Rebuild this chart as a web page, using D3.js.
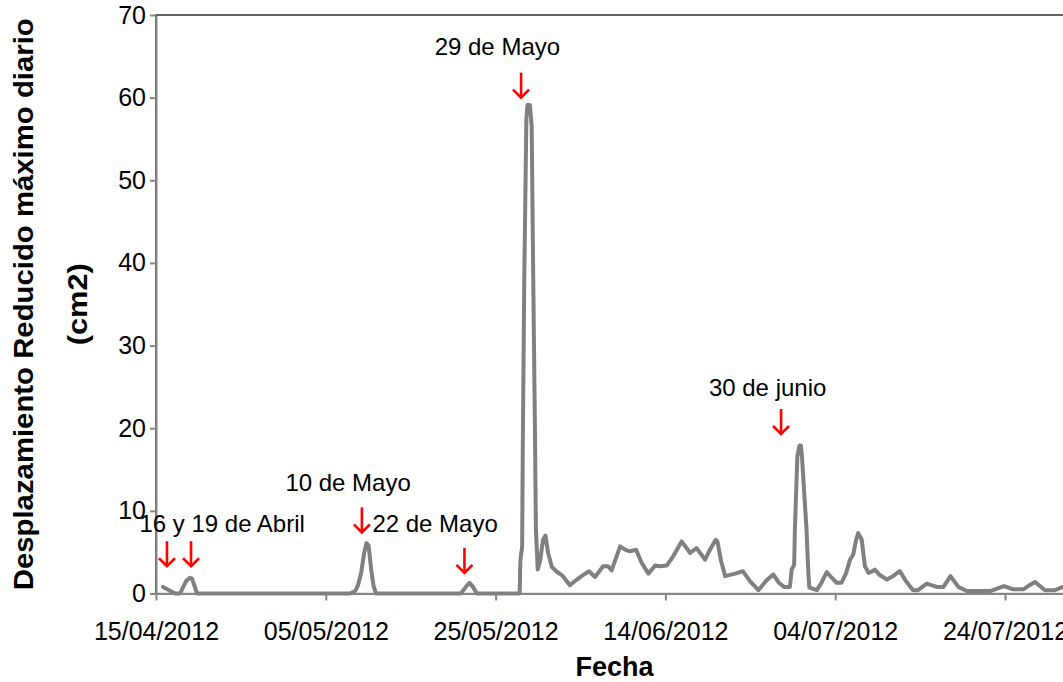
<!DOCTYPE html>
<html>
<head>
<meta charset="utf-8">
<script src="https://cdn.jsdelivr.net/npm/d3@7"></script>
<style>
  html, body { margin: 0; padding: 0; background: #fff; }
  svg { display: block; }
  text { font-family: "Liberation Sans", Arial, sans-serif; }
</style>
</head>
<body>
<svg id="chart" width="1063" height="682"></svg>
<script>
// ---- data ----
const dates = [
  "2012-04-15 20:00","2012-04-17 06:00","2012-04-17 20:00","2012-04-18 13:00","2012-04-19 00:00","2012-04-19 06:00","2012-04-19 20:00",
  "2012-05-07 20:00","2012-05-08 11:00","2012-05-08 19:00","2012-05-09 04:00","2012-05-09 12:00","2012-05-09 19:00","2012-05-10 01:00","2012-05-10 08:00","2012-05-10 15:00","2012-05-10 22:00",
  "2012-05-20 22:00","2012-05-21 12:00","2012-05-21 22:00","2012-05-22 08:00","2012-05-22 19:00",
  "2012-05-27 20:00","2012-05-27 22:00","2012-05-28 03:00","2012-05-28 05:00","2012-05-28 09:00","2012-05-28 15:00","2012-05-28 18:00","2012-05-29 01:00","2012-05-29 06:00","2012-05-29 10:00","2012-05-29 15:00","2012-05-29 18:00","2012-05-29 23:00",
  "2012-05-30 06:00","2012-05-30 14:00","2012-05-30 21:00","2012-05-31 04:00","2012-05-31 15:00","2012-06-01 06:00","2012-06-01 20:00","2012-06-02 18:00","2012-06-03 11:00","2012-06-04 03:00",
  "2012-06-05 00:00","2012-06-05 17:00","2012-06-06 16:00","2012-06-07 06:00","2012-06-07 16:00","2012-06-08 16:00","2012-06-09 06:00","2012-06-09 20:00","2012-06-10 13:00","2012-06-11 05:00",
  "2012-06-12 00:00","2012-06-12 19:00","2012-06-13 09:00","2012-06-14 04:00","2012-06-14 22:00","2012-06-15 22:00","2012-06-16 22:00","2012-06-17 16:00","2012-06-18 16:00","2012-06-19 06:00",
  "2012-06-19 22:00","2012-06-20 03:00","2012-06-20 13:00","2012-06-21 01:00","2012-06-22 05:00","2012-06-23 03:00","2012-06-23 23:00","2012-06-24 23:00","2012-06-25 20:00","2012-06-26 17:00",
  "2012-06-27 09:00","2012-06-27 23:00","2012-06-28 16:00","2012-06-28 21:00","2012-06-29 04:00","2012-06-29 06:00","2012-06-29 13:00","2012-06-29 19:00","2012-06-29 23:00","2012-06-30 02:00",
  "2012-06-30 15:00","2012-06-30 20:00","2012-06-30 23:00","2012-07-01 20:00","2012-07-02 08:00","2012-07-03 00:00","2012-07-03 12:00","2012-07-04 04:00","2012-07-04 18:00","2012-07-05 07:00",
  "2012-07-05 18:00","2012-07-06 03:00","2012-07-06 11:00","2012-07-06 17:00","2012-07-07 03:00","2012-07-07 12:00","2012-07-07 22:00","2012-07-08 10:00","2012-07-08 16:00","2012-07-09 07:00",
  "2012-07-10 02:00","2012-07-10 19:00","2012-07-11 15:00","2012-07-12 08:00","2012-07-13 04:00","2012-07-13 18:00","2012-07-14 19:00","2012-07-15 23:00","2012-07-16 18:00","2012-07-17 14:00",
  "2012-07-18 12:00","2012-07-19 12:00","2012-07-22 06:00","2012-07-23 21:00","2012-07-24 23:00","2012-07-26 04:00","2012-07-26 17:00","2012-07-27 13:00","2012-07-28 17:00","2012-07-29 21:00",
  "2012-07-30 20:00","2012-07-31 16:00"
];
const values = [
  0.8,0.0,0.0,1.5,1.9,1.8,0.0,
  0.0,0.3,1.0,2.5,4.8,6.1,5.8,3.0,0.9,0.0,
  0.0,0.8,1.3,0.8,0.0,
  0.0,4.0,5.7,18.3,38.0,57.5,59.1,59.1,56.5,39.6,20.7,7.7,2.9,
  4.0,6.5,7.0,5.0,3.2,2.6,2.2,1.0,1.6,2.1,
  2.7,2.0,3.3,3.3,2.8,5.7,5.3,5.1,5.3,3.7,
  2.4,3.4,3.3,3.4,4.5,6.3,4.9,5.5,4.1,5.3,
  6.5,6.3,4.0,2.1,2.4,2.7,1.5,0.4,1.5,2.3,
  1.3,0.8,0.8,2.9,3.5,7.7,16.6,17.9,17.9,16.6,
  7.7,2.5,0.7,0.4,1.2,2.6,2.0,1.3,1.3,2.5,
  4.1,4.7,6.5,7.3,6.5,3.3,2.5,2.7,2.9,2.2,
  1.7,2.1,2.7,1.5,0.4,0.4,1.2,0.8,0.8,2.1,
  0.8,0.3,0.3,0.9,0.5,0.5,0.9,1.4,0.4,0.4,
  0.8,1.0
];
const xTickDates = ["2012-04-15","2012-05-05","2012-05-25","2012-06-14","2012-07-04","2012-07-24"];
const yTickValues = [0,10,20,30,40,50,60,70];
const xDomain = ["2012-04-15","2012-08-01"];
const yDomain = [0,70];

// annotation arrows: tip date & value
const arrowDates  = ["2012-04-16 07:00","2012-04-19 03:00","2012-05-09 06:00","2012-05-21 08:00","2012-05-28 00:00","2012-06-27 15:00"];
const arrowValues = [3.3,3.3,7.4,2.5,60.0,19.3];
// annotation labels: centre date & baseline value
const noteLabels = ["16 y 19 de Abril","10 de Mayo","22 de Mayo","29 de Mayo","30 de junio"];
const noteDates  = ["2012-04-22 19:00","2012-05-07 15:00","2012-05-17 21:00","2012-05-25 05:00","2012-06-26 01:00"];
const noteValues = [7.5,12.45,7.5,65.2,23.9];

// ---- drawing ----
const parseDT = d3.timeParse("%Y-%m-%d %H:%M");
const parseD = d3.timeParse("%Y-%m-%d");
const svg = d3.select("#chart");
svg.append("rect").attr("width",1063).attr("height",682).attr("fill","#fff");

const plotLeft = 156, plotTop = 15, plotBottom = 593.5;
const pxPerDay = 8.49;
const x = d3.scaleTime().domain(xDomain.map(parseD))
  .range([plotLeft, plotLeft + pxPerDay * d3.timeDay.count(parseD(xDomain[0]), parseD(xDomain[1]))]);
const y = d3.scaleLinear().domain(yDomain).range([plotBottom, plotTop]);

// plot area border (top visible)
svg.append("rect").attr("x", plotLeft).attr("y", plotTop)
  .attr("width", x.range()[1] - plotLeft).attr("height", plotBottom - plotTop)
  .attr("fill","none").attr("stroke","#000").attr("stroke-width",1.2);

const data = dates.map((d,i) => ({t: parseDT(d), v: values[i]}));

// axes
const gx = svg.append("g").attr("transform",`translate(0,${plotBottom})`)
  .call(d3.axisBottom(x).tickValues(xTickDates.map(parseD))
    .tickFormat(d3.timeFormat("%d/%m/%Y")).tickSizeInner(7).tickSizeOuter(0).tickPadding(22));
gx.select(".domain").attr("stroke","#868686").attr("stroke-width",2);
gx.selectAll(".tick line").attr("stroke","#868686").attr("stroke-width",2);
gx.selectAll(".tick text").attr("font-size",25).attr("fill","#000")
  .attr("font-family","'Liberation Sans', Arial, sans-serif");

const gy = svg.append("g").attr("transform",`translate(${plotLeft},0)`)
  .call(d3.axisLeft(y).tickValues(yTickValues).tickSizeInner(6).tickSizeOuter(0).tickPadding(4));
gy.select(".domain").attr("stroke","#868686").attr("stroke-width",2);
gy.selectAll(".tick line").attr("stroke","#868686").attr("stroke-width",2);
gy.selectAll(".tick text").attr("font-size",25).attr("fill","#000")
  .attr("font-family","'Liberation Sans', Arial, sans-serif");

// series line
const line = d3.line().x(d => x(d.t)).y(d => y(d.v));
svg.append("path").datum(data).attr("d", line)
  .attr("fill","none").attr("stroke","#808080").attr("stroke-width",4)
  .attr("stroke-linejoin","round").attr("stroke-linecap","round");

// axis titles
svg.append("text").attr("x", (plotLeft + x.range()[1]) / 2).attr("y", 676)
  .attr("text-anchor","middle").attr("font-weight","bold").attr("font-size",27)
  .text("Fecha");
const yt = svg.append("g").attr("transform",`translate(0,${(plotTop+plotBottom)/2}) rotate(-90)`);
yt.append("text").attr("x",0).attr("y",33).attr("text-anchor","middle")
  .attr("font-weight","bold").attr("font-size",27)
  .attr("textLength",572).attr("lengthAdjust","spacingAndGlyphs")
  .text("Desplazamiento Reducido máximo diario");
yt.append("text").attr("x",0).attr("y",87).attr("text-anchor","middle")
  .attr("font-weight","bold").attr("font-size",27)
  .attr("textLength",82).attr("lengthAdjust","spacingAndGlyphs")
  .text("(cm2)");

// annotations
const arrowLen = 25, head = 8;
arrowDates.forEach((d,i) => {
  const ax = x(parseDT(d)), ay = y(arrowValues[i]);
  const g = svg.append("g").attr("stroke","#ff0000").attr("stroke-width",2.6).attr("fill","none");
  g.append("line").attr("x1",ax).attr("x2",ax).attr("y1",ay-arrowLen).attr("y2",ay);
  g.append("path").attr("d",`M${ax-head},${ay-head} L${ax},${ay} L${ax+head},${ay-head}`);
});
noteLabels.forEach((t,i) => {
  svg.append("text").attr("x", x(parseDT(noteDates[i]))).attr("y", y(noteValues[i]))
    .attr("text-anchor","middle").attr("font-size",24).attr("fill","#000").text(t);
});
</script>
</body>
</html>
